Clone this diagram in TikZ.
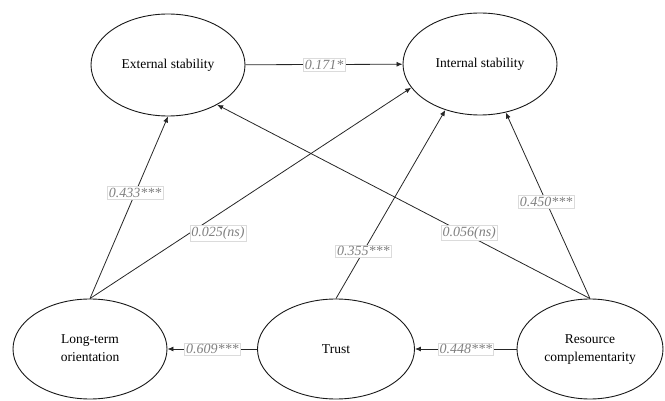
\documentclass[tikz,border=0pt]{standalone}
\usepackage{fontspec}
\setmainfont{Liberation Serif}
\usetikzlibrary{shapes.geometric,arrows.meta}
% zero-width box so the ellipse keeps its fixed size
\newcommand\zerowd[1]{\makebox[0pt]{#1}}

\begin{document}
\begin{tikzpicture}[x=1pt,y=-1pt,
  construct/.style={ellipse,draw=black!90,line width=0.9pt,minimum width=154pt,
    minimum height=102pt,inner sep=0pt,font=\fontsize{13.5}{18}\selectfont},
  effect/.style={draw=black!85,line width=0.8pt,-{Latex[length=6pt,width=5pt]}},
  coef/.style={fill=white,draw=black!14,line width=0.4pt,inner sep=1.5pt,
    text=black!50,font=\fontsize{14}{16}\selectfont\itshape}
]
\useasboundingbox (0,0) rectangle (665,401);

% constructs
\node[construct] (ext) at (168,65) {\zerowd{External stability}};
\node[construct] (int) at (480,64) {\zerowd{Internal stability}};
\node[construct,minimum height=100pt] (lto) at (90,349)
  {\zerowd{\begin{tabular}{@{}c@{}}Long-term\\orientation\end{tabular}}};
\node[construct,minimum height=100pt,minimum width=157pt] (trust) at (336,349)
  {\zerowd{Trust}};
\node[construct,minimum height=100pt,minimum width=146pt] (res) at (590,349)
  {\zerowd{\begin{tabular}{@{}c@{}}Resource\\complementarity\end{tabular}}};

% structural paths with coefficients
\draw[effect] (lto.north) -- node[coef,pos=0.58]{0.433***} (ext.270);
\draw[effect] (lto.north) -- node[coef,pos=0.31,anchor=west]{0.025(ns)} (int.199);
\draw[effect] (res.north) -- node[coef,pos=0.34,xshift=6pt]{0.056(ns)} (ext.321);
\draw[effect] (trust.north) -- node[coef,pos=0.25]{0.355***} (int.233);
\draw[effect] (res.north) -- node[coef,pos=0.52]{0.450***} (int.298);
\draw[effect] (ext) -- node[coef]{0.171*} (int);
\draw[effect] (trust) -- node[coef]{0.609***} (lto);
\draw[effect] (res) -- node[coef]{0.448***} (trust);
\end{tikzpicture}
\end{document}
